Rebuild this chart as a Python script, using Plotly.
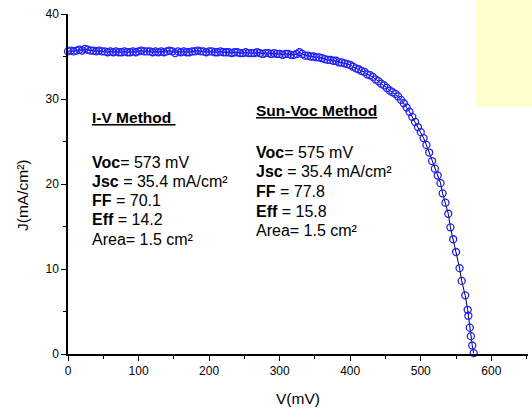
import plotly.graph_objects as go

# ---- data ----
V_flat = [0, 4, 8, 12, 16, 20, 24, 28, 32, 36, 40, 44, 48, 52, 56, 60, 64, 68, 72, 76,
          80, 84, 88, 92, 96, 100, 104, 108, 112, 116, 120, 124, 128, 132, 136, 140, 144,
          148, 152, 156, 160, 164, 168, 172, 176, 180, 184, 188, 192, 196, 200, 204, 208,
          212, 216, 220, 224, 228, 232, 236, 240, 244, 248, 252, 256, 260, 264, 268, 272,
          276, 280, 284, 288, 292, 296, 300, 304, 308, 312, 316, 320, 324, 328, 332, 336,
          340, 344, 348]
J_flat = [35.6, 35.7, 35.6, 35.7, 35.8, 35.7, 35.9, 35.8, 35.7, 35.7, 35.6, 35.7, 35.6,
          35.6, 35.5, 35.6, 35.5, 35.6, 35.5, 35.5, 35.6, 35.5, 35.5, 35.6, 35.5, 35.6,
          35.7, 35.6, 35.6, 35.6, 35.5, 35.6, 35.5, 35.6, 35.5, 35.6, 35.7, 35.6, 35.4,
          35.6, 35.5, 35.6, 35.5, 35.5, 35.6, 35.6, 35.7, 35.6, 35.6, 35.5, 35.6, 35.6,
          35.5, 35.5, 35.6, 35.5, 35.5, 35.5, 35.4, 35.5, 35.5, 35.4, 35.4, 35.5, 35.4,
          35.4, 35.4, 35.5, 35.4, 35.3, 35.4, 35.4, 35.3, 35.4, 35.3, 35.3, 35.2, 35.3,
          35.3, 35.2, 35.2, 35.3, 35.5, 35.3, 35.1, 35.1, 35.0, 35.0]
V_knee = [352, 356, 360, 364, 368, 372, 376, 380, 384, 388, 392, 396, 400, 404, 408, 412,
          416, 420, 424, 428, 432, 436, 440, 444, 448, 452, 456, 460, 464, 468, 472, 476,
          480, 484, 488, 492, 496, 500, 504, 508, 512, 516, 520, 524, 528, 531, 535, 539,
          542, 546, 550, 555, 558, 563, 566.5, 567.5, 569.5, 571, 573, 575]
J_knee = [34.9, 34.9, 34.8, 34.7, 34.6, 34.6, 34.5, 34.5, 34.3, 34.3, 34.2, 34.1, 34.0,
          33.8, 33.6, 33.5, 33.3, 33.2, 32.9, 32.8, 32.6, 32.3, 32.1, 31.8, 31.6, 31.3,
          31.0, 30.8, 30.6, 30.3, 29.9, 29.5, 29.0, 28.5, 27.9, 27.3, 26.7, 26.1, 25.4,
          24.6, 23.7, 22.7, 21.8, 21.0, 20.1, 18.9, 17.8, 16.5, 14.9, 13.5, 12.0, 10.1,
          8.6, 6.9, 5.2, 4.5, 3.1, 2.1, 1.0, 0.1]

V = V_flat + V_knee
J = J_flat + J_knee

x_ticks = [0, 100, 200, 300, 400, 500, 600]
y_ticks = [0, 10, 20, 30, 40]

iv_header = "I-V Method"
iv_lines = ["<b>Voc</b>= 573 mV", "<b>Jsc</b> = 35.4 mA/cm²", "<b>FF</b> = 70.1",
            "<b>Eff</b> = 14.2", "Area= 1.5 cm²"]
sv_header = "Sun-Voc Method"
sv_lines = ["<b>Voc</b>= 575 mV", "<b>Jsc</b> = 35.4 mA/cm²", "<b>FF</b> = 77.8",
            "<b>Eff</b> = 15.8", "Area= 1.5 cm²"]

# ---- layout geometry (pixels) ----
W, H = 532, 418
L, R, T, B = 68, 528, 14, 354
FONT = "Liberation Sans, Arial, sans-serif"


def xp(px):
    return (px - L) / (R - L)


def yp(py):
    return (B - py) / (B - T)


fig = go.Figure()
fig.add_trace(go.Scatter(
    x=V, y=J, mode="lines+markers",
    line=dict(color="black", width=1),
    marker=dict(symbol="circle-open", size=7, color="#2020ff", line=dict(width=1.3, color="#2020ff")),
    showlegend=False, hoverinfo="skip", cliponaxis=False,
))

annotations = []
BODY = 16
HEAD = 15.5


def add_text(txt, px, baseline, size):
    annotations.append(dict(
        text=txt, x=xp(px), y=yp(baseline - 0.36 * size), xref="paper", yref="paper",
        xanchor="left", yanchor="middle", showarrow=False,
        font=dict(family=FONT, size=size, color="black"),
    ))


add_text("<b><u>" + iv_header + "\u00a0</u></b>", 90, 123, HEAD)
for i, t in enumerate(iv_lines):
    add_text(t, 90, 168 + 19.25 * i, BODY)
add_text("<b><u>" + sv_header + "</u></b>", 254, 116.5, HEAD)
for i, t in enumerate(sv_lines):
    add_text(t, 254, 158 + 19.6 * i, BODY)

# axis titles
annotations.append(dict(text="V(mV)", x=xp(298), y=yp(398), xref="paper", yref="paper",
                        xanchor="center", yanchor="middle", showarrow=False,
                        font=dict(family=FONT, size=15.5, color="black")))
annotations.append(dict(text="J(mA/cm²)", x=xp(22), y=yp(196), xref="paper", yref="paper",
                        xanchor="center", yanchor="middle", showarrow=False, textangle=-90,
                        font=dict(family=FONT, size=15.5, color="black")))

shapes = [dict(type="rect", xref="paper", yref="paper", x0=xp(476), x1=xp(540),
               y0=yp(107), y1=yp(-5), fillcolor="#ffffcc", line=dict(width=0), layer="below")]

axis_common = dict(
    showline=True, linecolor="black", linewidth=1.5, mirror=False,
    ticks="outside", ticklen=5, tickwidth=1.2, tickcolor="black",
    showgrid=False, zeroline=False,
    tickfont=dict(family=FONT, size=12, color="black"),
)

fig.update_layout(
    width=W, height=H,
    margin=dict(l=L, r=W - R, t=T, b=H - B, pad=0),
    paper_bgcolor="white", plot_bgcolor="rgba(0,0,0,0)",
    xaxis=dict(range=[0, 652], tickvals=x_ticks,
               minor=dict(dtick=50, ticks="outside", ticklen=3, tickwidth=1, tickcolor="black"),
               **axis_common),
    yaxis=dict(range=[0, 40], tickvals=y_ticks,
               minor=dict(dtick=5, ticks="outside", ticklen=3, tickwidth=1, tickcolor="black"),
               **axis_common),
    annotations=annotations,
    shapes=shapes,
)

fig.write_html(
    "out.html",
    config={"displayModeBar": False},
    post_script="document.body.style.margin='0px';document.body.style.overflow='hidden';",
)
